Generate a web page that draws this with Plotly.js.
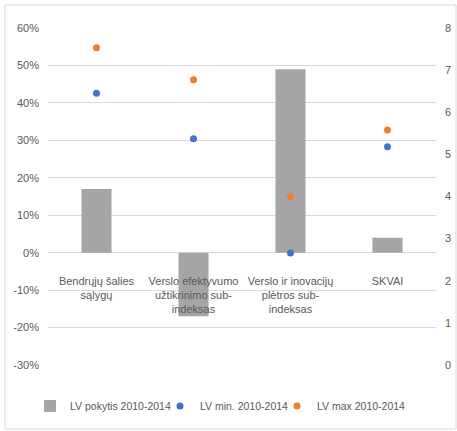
<!DOCTYPE html>
<html>
<head>
<meta charset="utf-8">
<script src="https://cdn.plot.ly/plotly-3.0.1.min.js"></script>
<style>html,body{margin:0;padding:0;background:#fff;}#chart{width:457px;height:431px;}</style>
</head>
<body>
<div id="chart"></div>
<script>
var categories = [
  "Bendrųjų šalies<br>sąlygų",
  "Verslo efektyvumo<br>užtikrinimo sub-<br>indeksas",
  "Verslo ir inovacijų<br>plėtros sub-<br>indeksas",
  "SKVAI"
];
var changeValues = [0.17, -0.17, 0.49, 0.04];
var minValues = [6.45, 5.37, 2.66, 5.18];
var maxValues = [7.53, 6.77, 4.0, 5.58];
var seriesNames = ["LV pokytis 2010-2014", "LV min. 2010-2014", "LV max 2010-2014"];
var leftTickVals = [-0.3, -0.2, -0.1, 0, 0.1, 0.2, 0.3, 0.4, 0.5, 0.6];
var leftTickText = ["-30%", "-20%", "-10%", "0%", "10%", "20%", "30%", "40%", "50%", "60%"];
var rightTickVals = [0, 1, 2, 3, 4, 5, 6, 7, 8];

var fontFam = "Liberation Sans, Arial, sans-serif";
var txt = "#595959";

var traces = [
  {type: "bar", x: categories, y: changeValues, name: seriesNames[0],
   marker: {color: "#a5a5a5"}, yaxis: "y", legend: "legend"},
  {type: "scatter", mode: "markers", x: categories, y: minValues, name: seriesNames[1],
   marker: {color: "#4472c4", size: 7}, yaxis: "y2", legend: "legend2"},
  {type: "scatter", mode: "markers", x: categories, y: maxValues, name: seriesNames[2],
   marker: {color: "#ed7d31", size: 7}, yaxis: "y2", legend: "legend3"}
];

function legendAt(px) {
  return {orientation: "h", xref: "container", x: px / 457, xanchor: "left",
          yref: "container", y: 25 / 431, yanchor: "middle",
          font: {size: 10.5, color: txt}, itemwidth: 30,
          bgcolor: "rgba(0,0,0,0)", borderwidth: 0};
}

var layout = {
  width: 457, height: 431,
  margin: {l: 48, r: 21, t: 28, b: 66, autoexpand: false},
  paper_bgcolor: "#ffffff", plot_bgcolor: "#ffffff",
  font: {family: fontFam, size: 11, color: txt},
  bargap: 0.69,
  showlegend: true,
  legend: legendAt(30),
  legend2: legendAt(160),
  legend3: legendAt(277),
  xaxis: {type: "category", anchor: "free", position: 0.3333, showline: false,
          showgrid: false, zeroline: false, ticks: "", ticklabelstandoff: 20,
          tickfont: {size: 11, color: txt}},
  yaxis: {range: [-0.3, 0.6], tickmode: "array", tickvals: leftTickVals, ticktext: leftTickText,
          showgrid: true, gridcolor: "#d9d9d9", gridwidth: 1, zeroline: true,
          zerolinecolor: "#d9d9d9", showline: false, ticks: "", ticklabelstandoff: 8,
          tickfont: {size: 11, color: txt}},
  yaxis2: {range: [0, 8], tickmode: "array", tickvals: rightTickVals, overlaying: "y", side: "right",
           showgrid: false, zeroline: false, showline: false, ticks: "",
           ticklabelstandoff: 8, tickfont: {size: 11, color: txt}},
  shapes: [{type: "rect", xref: "paper", yref: "paper",
            x0: -43/388, x1: 408/388, y0: -64/337, y1: 1 + 23/337,
            line: {color: "#d9d9d9", width: 1}, fillcolor: "rgba(0,0,0,0)", layer: "below"}]
};

Plotly.newPlot("chart", traces, layout, {displayModeBar: false, staticPlot: true});
</script>
</body>
</html>
